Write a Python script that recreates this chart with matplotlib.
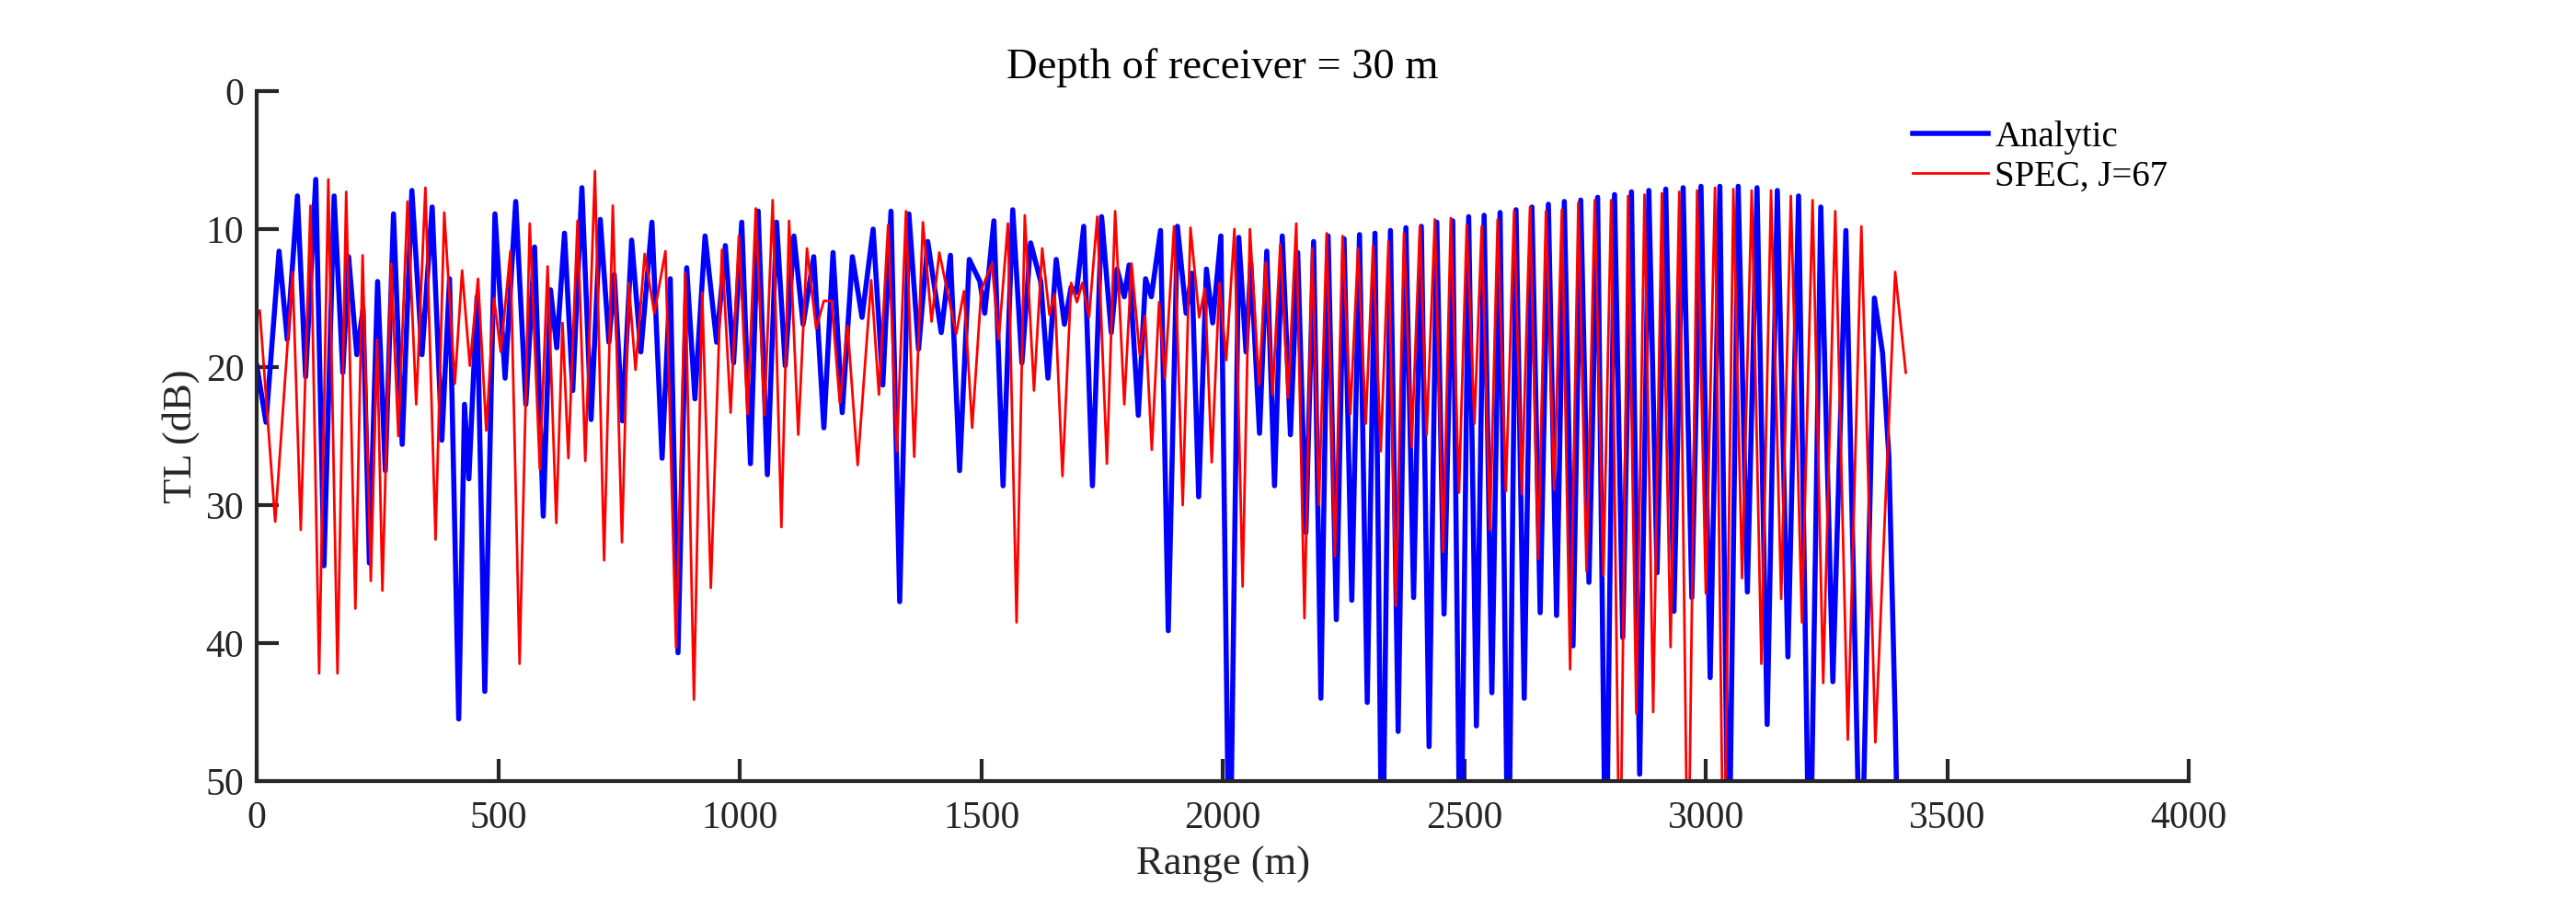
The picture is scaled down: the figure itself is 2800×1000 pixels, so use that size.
import matplotlib
matplotlib.use('Agg')
import matplotlib.pyplot as plt

# range (m) and transmission loss (dB) at local peaks/troughs
range_analytic = [
    0, 19, 46, 63, 84, 101, 122, 139, 160, 178, 190, 207, 220, 233, 250, 266, 283, 301, 321, 342,
    363, 383, 399, 418, 430, 439, 456, 472, 493, 514, 536, 557, 575, 593, 608, 621, 637, 654, 673, 692,
    711, 729, 740, 757, 776, 795, 818, 839, 856, 872, 890, 907, 928, 952, 970, 987, 1004, 1022, 1038, 1057,
    1076, 1094, 1112, 1131, 1153, 1174, 1193, 1212, 1233, 1253, 1276, 1296, 1313, 1331, 1350, 1370, 1389, 1417, 1436, 1455,
    1475, 1497, 1507, 1526, 1545, 1565, 1584, 1602, 1623, 1638, 1655, 1672, 1686, 1697, 1712, 1730, 1749, 1769, 1781, 1796,
    1806, 1825, 1840, 1852, 1871, 1887, 1906, 1924, 1936, 1950, 1966, 1979, 1996, 2014, 2033, 2048, 2058, 2076, 2091, 2107,
    2123, 2140, 2155, 2172, 2188, 2203, 2218, 2235, 2251, 2267, 2283, 2299, 2315, 2330, 2347, 2363, 2379, 2395, 2411, 2427,
    2443, 2458, 2476, 2492, 2509, 2525, 2541, 2557, 2574, 2591, 2607, 2624, 2640, 2657, 2674, 2691, 2707, 2725, 2741, 2758,
    2776, 2793, 2811, 2828, 2846, 2863, 2882, 2899, 2917, 2934, 2953, 2971, 2990, 3009, 3029, 3047, 3067, 3086, 3106, 3127,
    3148, 3170, 3192, 3215, 3238, 3263, 3290, 3321, 3349, 3366, 3379, 3392, 3400,
]
tl_analytic = [
    19.9, 24.0, 11.6, 18.0, 7.6, 20.7, 6.4, 34.4, 7.6, 20.4, 12.0, 19.1, 15.8, 34.2, 13.8, 27.5, 8.9, 25.6, 7.2, 19.1,
    8.4, 25.3, 13.6, 45.5, 22.7, 28.1, 14.9, 43.5, 8.9, 20.8, 8.0, 22.7, 11.3, 30.8, 14.4, 18.6, 10.3, 21.7, 7.0, 23.8,
    9.3, 18.2, 13.3, 23.9, 10.8, 18.9, 9.5, 26.6, 13.6, 40.7, 12.8, 22.3, 10.5, 18.2, 11.2, 19.7, 9.5, 27.0, 8.7, 27.8,
    9.5, 19.9, 10.5, 16.9, 12.0, 24.4, 11.7, 23.3, 12.0, 16.4, 10.0, 21.3, 8.7, 37.0, 8.9, 18.7, 10.9, 17.5, 11.9, 27.5,
    12.2, 13.8, 16.1, 9.4, 28.6, 8.6, 19.7, 11.0, 13.8, 20.8, 12.2, 16.9, 14.2, 14.6, 9.8, 28.6, 9.1, 17.5, 12.9, 14.9,
    12.6, 23.5, 13.6, 14.9, 10.1, 39.1, 9.8, 16.1, 13.2, 29.4, 12.9, 16.8, 10.5, 60, 10.6, 18.9, 12.5, 24.8, 11.6, 28.6,
    10.5, 24.9, 11.7, 32.0, 10.9, 44.0, 10.5, 38.3, 10.7, 36.9, 10.4, 44.3, 10.3, 60, 10.1, 46.4, 9.9, 36.7, 9.8, 47.5,
    9.5, 37.9, 9.4, 60, 9.1, 46.0, 9.0, 43.6, 8.8, 60, 8.6, 44.0, 8.4, 37.8, 8.2, 38.0, 8.0, 40.2, 7.9, 35.6,
    7.7, 60, 7.5, 39.6, 7.3, 49.5, 7.2, 34.9, 7.1, 37.7, 7.0, 36.7, 6.9, 42.5, 6.9, 60, 6.9, 36.3, 7.0, 45.9,
    7.2, 41.0, 7.6, 60, 8.4, 42.8, 10.1, 60, 15.0, 19.0, 26.5, 45.4, 60,
]

range_spec = [
    0, 6, 38, 74, 91, 111, 129, 148, 167, 185, 204, 219, 236, 249, 260, 278, 293, 312, 330, 349,
    370, 388, 410, 425, 441, 458, 475, 491, 505, 525, 544, 565, 586, 602, 620, 633, 645, 664, 680, 700,
    719, 737, 756, 770, 784, 803, 823, 846, 868, 887, 905, 922, 940, 963, 981, 998, 1016, 1033, 1051, 1068,
    1086, 1102, 1121, 1139, 1158, 1174, 1190, 1207, 1223, 1244, 1272, 1288, 1307, 1325, 1344, 1361, 1379, 1397, 1413, 1432,
    1448, 1464, 1481, 1500, 1522, 1536, 1555, 1573, 1590, 1609, 1626, 1641, 1652, 1668, 1686, 1698, 1709, 1723, 1740, 1760,
    1777, 1796, 1811, 1828, 1839, 1853, 1868, 1880, 1899, 1917, 1933, 1951, 1963, 1977, 1993, 2007, 2024, 2041, 2056, 2075,
    2089, 2103, 2119, 2135, 2152, 2169, 2185, 2199, 2215, 2232, 2248, 2264, 2280, 2296, 2311, 2327, 2343, 2358, 2375, 2391,
    2408, 2422, 2439, 2456, 2472, 2489, 2505, 2521, 2536, 2553, 2569, 2586, 2603, 2619, 2636, 2653, 2669, 2686, 2702, 2719,
    2736, 2753, 2770, 2788, 2804, 2822, 2839, 2856, 2873, 2891, 2909, 2927, 2945, 2963, 2982, 3000, 3019, 3037, 3057, 3075,
    3095, 3115, 3135, 3156, 3176, 3199, 3221, 3243, 3268, 3294, 3322, 3351, 3392, 3414,
]
tl_spec = [
    16.3, 15.9, 31.2, 13.1, 31.8, 8.3, 42.2, 6.4, 42.2, 7.3, 37.5, 11.9, 35.5, 18.0, 36.2, 12.5, 25.0, 8.0, 22.7, 7.0,
    32.5, 8.8, 21.2, 13.0, 19.9, 13.6, 24.6, 15.0, 18.9, 11.6, 41.5, 9.6, 27.4, 12.7, 31.3, 16.8, 26.6, 9.4, 26.8, 5.8,
    34.0, 8.3, 32.7, 13.9, 20.2, 11.8, 16.1, 11.6, 40.3, 13.2, 44.1, 14.6, 36.0, 11.5, 23.3, 10.5, 23.4, 8.5, 23.5, 7.9,
    31.6, 9.4, 24.9, 11.4, 17.2, 15.2, 15.2, 22.6, 17.0, 27.1, 13.7, 22.0, 9.7, 26.1, 8.7, 26.5, 9.5, 16.7, 11.7, 14.9,
    17.6, 14.5, 24.4, 14.4, 12.5, 18.0, 9.6, 38.5, 9.0, 21.7, 11.4, 16.2, 14.7, 27.9, 13.9, 15.3, 13.9, 16.4, 9.1, 27.0,
    8.7, 22.7, 12.5, 19.1, 16.3, 26.0, 15.3, 20.8, 9.8, 30.0, 9.9, 16.4, 14.3, 26.9, 13.9, 19.5, 10.0, 35.9, 10.0, 21.3,
    12.4, 22.0, 11.1, 22.2, 9.6, 38.2, 11.4, 30.0, 10.3, 33.7, 10.5, 23.4, 11.4, 24.1, 11.2, 26.1, 10.9, 37.3, 10.3, 25.8,
    9.8, 24.9, 9.3, 33.4, 9.2, 29.1, 9.7, 24.1, 9.8, 31.8, 9.3, 29.0, 8.7, 29.2, 8.4, 33.9, 8.7, 28.9, 8.6, 41.9,
    8.1, 34.8, 7.9, 35.1, 7.9, 60, 7.6, 45.1, 7.5, 45.0, 7.4, 40.3, 7.3, 60, 7.2, 36.4, 7.0, 60, 7.1, 35.3,
    7.2, 41.5, 7.2, 36.8, 7.6, 38.5, 7.9, 42.9, 8.7, 47.0, 9.8, 47.2, 13.1, 20.4,
]

x_ticks = [0, 500, 1000, 1500, 2000, 2500, 3000, 3500, 4000]
y_ticks = [0, 10, 20, 30, 40, 50]

assert len(range_analytic) == len(tl_analytic), (len(range_analytic), len(tl_analytic))
assert len(range_spec) == len(tl_spec), (len(range_spec), len(tl_spec))

plt.rcParams['font.family'] = ['Liberation Serif', 'DejaVu Serif']
axis_color = '#262626'

fig = plt.figure(figsize=(28, 10), dpi=100)
ax = fig.add_axes([0.0997, 0.151, 0.75, 0.75])

ax.plot(range_analytic, tl_analytic, color='#0000ff', lw=4, label='Analytic')
ax.plot(range_spec, tl_spec, color='#ff0000', lw=2, label='SPEC, J=67')

ax.set_xlim(0, 4000)
ax.set_ylim(50, 0)
ax.set_xticks(x_ticks)
ax.set_yticks(y_ticks)

for side in ['top', 'right']:
    ax.spines[side].set_visible(False)
for side in ['left', 'bottom']:
    ax.spines[side].set_linewidth(3)
    ax.spines[side].set_color(axis_color)
    ax.spines[side].set_capstyle('projecting')

ax.tick_params(direction='in', length=17, width=3, colors=axis_color, labelsize=30)
ax.tick_params(axis='x', pad=15.5)
ax.tick_params(axis='y', pad=10)

ax.set_xlabel('Range (m)', fontsize=32, color=axis_color, labelpad=7.5)
ax.set_ylabel('TL (dB)', fontsize=32, color=axis_color, labelpad=5)
ax.set_title('Depth of receiver = 30 m', fontsize=33.5, pad=10)

ax.legend(loc='upper left', bbox_to_anchor=(0.7425, 0.869), bbox_transform=fig.transFigure,
          frameon=False, fontsize=28, handlelength=2.1, handletextpad=0.2,
          labelspacing=0.15, borderpad=0, borderaxespad=0)

fig.savefig('out.png', dpi=100)
